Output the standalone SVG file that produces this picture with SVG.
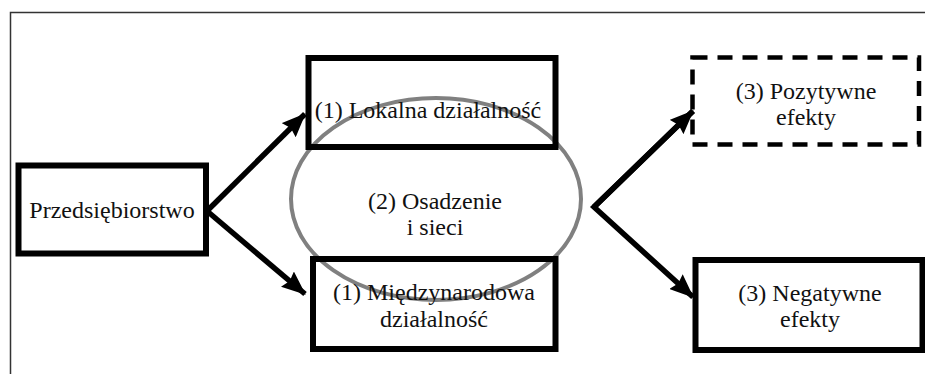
<svg xmlns="http://www.w3.org/2000/svg" width="925" height="374" viewBox="0 0 925 374">
<style>
.box{fill:none;stroke:#000;stroke-width:6}
.dash{fill:none;stroke:#000;stroke-width:4.5;stroke-dasharray:15 10}
.t{font-family:"Liberation Serif","Times New Roman",serif;font-size:24px;fill:#111;text-anchor:middle}
.conn{fill:none;stroke:#000;stroke-width:5.5;stroke-linejoin:miter}
</style>
<defs>
<marker id="ah" markerUnits="userSpaceOnUse" markerWidth="24" markerHeight="20" viewBox="0 0 24 20" refX="23" refY="10" orient="auto">
<path d="M0,0 L24,10 L0,20 L3,10 z" fill="#000"/>
</marker>
</defs>
<rect width="925" height="374" fill="#fff"/>
<rect x="10.5" y="12.5" width="930" height="380" fill="none" stroke="#333" stroke-width="1.5"/>
<g id="osadzenie">
<ellipse cx="436" cy="199" rx="145" ry="101" fill="none" stroke="#808080" stroke-width="4"/>
<text class="t" x="435" y="208.5">(2) Osadzenie</text>
<text class="t" x="435" y="235">i sieci</text>
</g>
<g id="przedsiebiorstwo">
<rect class="box" x="18.5" y="165.5" width="187.5" height="88"/>
<text class="t" x="112" y="218">Przedsiębiorstwo</text>
</g>
<g id="lokalna">
<rect class="box" x="308.5" y="58" width="247" height="89"/>
<text class="t" x="428" y="117.5">(1) Lokalna działalność</text>
</g>
<g id="miedzynarodowa">
<rect class="box" x="313" y="259" width="242.5" height="90"/>
<text class="t" x="434" y="299.5">(1) Międzynarodowa</text>
<text class="t" x="434" y="326.5">działalność</text>
</g>
<g id="pozytywne">
<rect class="dash" x="692.5" y="57.5" width="226.5" height="87"/>
<text class="t" x="806" y="99">(3) Pozytywne</text>
<text class="t" x="806" y="125">efekty</text>
</g>
<g id="negatywne">
<rect class="box" x="695.5" y="260" width="227" height="90"/>
<text class="t" x="810" y="301">(3) Negatywne</text>
<text class="t" x="810" y="327">efekty</text>
</g>
<g id="connectors">
<path class="conn" d="M207,211 L305,114" marker-end="url(#ah)"/>
<path class="conn" d="M207,211 L305,294" marker-end="url(#ah)"/>
<path class="conn" d="M693,111 L594,207 L693,297" marker-end="url(#ah)"/>
<path class="conn" d="M594,207 L693,111" marker-end="url(#ah)"/>
</g>
</svg>
